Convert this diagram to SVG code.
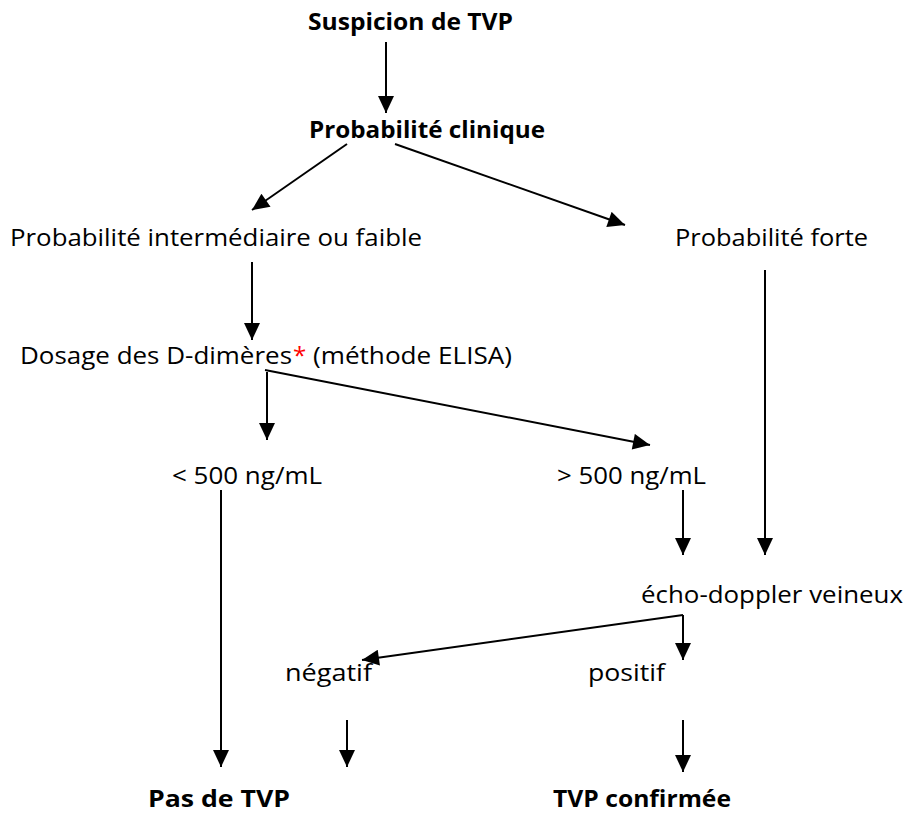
<svg xmlns="http://www.w3.org/2000/svg" width="905" height="821" viewBox="0 0 905 821">
<defs>
<style>
text{font-family:"Open Sans","Liberation Sans",sans-serif;font-size:24px;fill:#000}
.b{font-weight:bold}
.r{fill:#ff0000}
#connectors line{stroke:#000;stroke-width:2;marker-end:url(#arr)}
</style>
<marker id="arr" markerUnits="userSpaceOnUse" markerWidth="18" markerHeight="16" refX="17" refY="8" orient="auto" viewBox="0 0 17 16">
<path d="M0,0 L17,8 L0,16 z" fill="#000"/>
</marker>
</defs>
<rect width="905" height="821" fill="#fff"/>
<g id="connectors">
<line x1="386" y1="42" x2="386" y2="113"/>
<line x1="347" y1="144" x2="252" y2="210"/>
<line x1="395" y1="144" x2="625" y2="225"/>
<line x1="252" y1="262" x2="252" y2="340"/>
<line x1="765" y1="270" x2="765" y2="555"/>
<line x1="267" y1="372" x2="267" y2="440"/>
<line x1="265" y1="370" x2="650" y2="445"/>
<line x1="221" y1="490" x2="221" y2="767"/>
<line x1="683" y1="490" x2="683" y2="555"/>
<line x1="683" y1="615" x2="362" y2="660"/>
<line x1="683" y1="615" x2="683" y2="660"/>
<line x1="347" y1="720" x2="347" y2="767"/>
<line x1="683" y1="720" x2="683" y2="772"/>
</g>
<g id="n-suspicion"><text class="b" x="308" y="30" textLength="205" lengthAdjust="spacingAndGlyphs">Suspicion de TVP</text></g>
<g id="n-clinique"><text class="b" x="309" y="138" textLength="236" lengthAdjust="spacingAndGlyphs">Probabilité clinique</text></g>
<g id="n-faible"><text x="10" y="246" textLength="412" lengthAdjust="spacingAndGlyphs">Probabilité intermédiaire ou faible</text></g>
<g id="n-forte"><text x="675" y="246" textLength="193" lengthAdjust="spacingAndGlyphs">Probabilité forte</text></g>
<g id="n-dosage"><text x="20" y="364" textLength="272" lengthAdjust="spacingAndGlyphs">Dosage des D-dimères</text><text class="r" x="293" y="364">*</text><text x="313" y="364" textLength="199" lengthAdjust="spacingAndGlyphs">(méthode ELISA)</text></g>
<g id="n-inf500"><text x="172" y="484" textLength="150" lengthAdjust="spacingAndGlyphs">&lt; 500 ng/mL</text></g>
<g id="n-sup500"><text x="557" y="484" textLength="149" lengthAdjust="spacingAndGlyphs">&gt; 500 ng/mL</text></g>
<g id="n-echo"><text x="641" y="603" textLength="262" lengthAdjust="spacingAndGlyphs">écho-doppler veineux</text></g>
<g id="n-negatif"><text x="285" y="681" textLength="87" lengthAdjust="spacingAndGlyphs">négatif</text></g>
<g id="n-positif"><text x="588" y="681" textLength="77" lengthAdjust="spacingAndGlyphs">positif</text></g>
<g id="n-pas"><text class="b" x="148" y="807" textLength="142" lengthAdjust="spacingAndGlyphs">Pas de TVP</text></g>
<g id="n-confirmee"><text class="b" x="553" y="807" textLength="178" lengthAdjust="spacingAndGlyphs">TVP confirmée</text></g>
</svg>
